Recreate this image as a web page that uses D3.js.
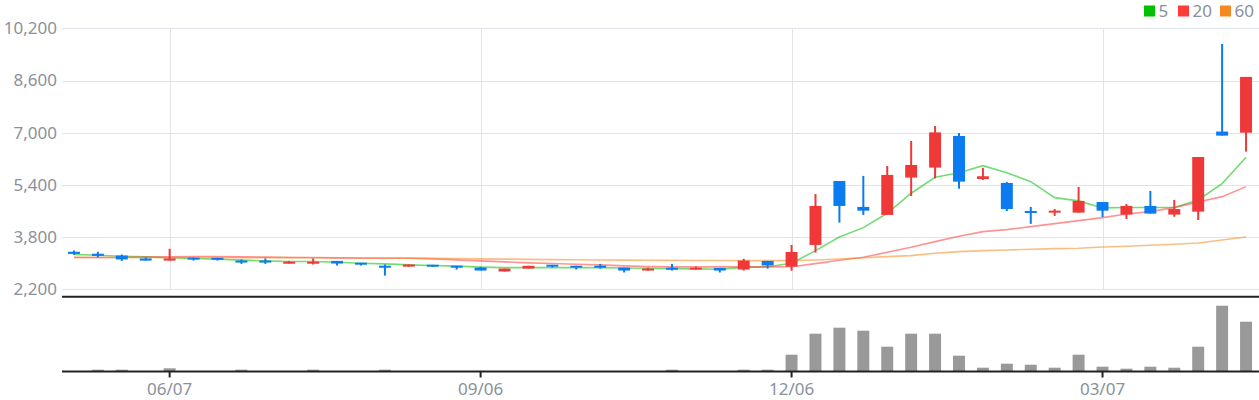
<!DOCTYPE html>
<html>
<head>
<meta charset="utf-8">
<script src="https://cdn.jsdelivr.net/npm/d3@7/dist/d3.min.js"></script>
<style>
  html, body { margin: 0; padding: 0; background: #fff; }
  svg { display: block; font-family: "Noto Sans", "Open Sans", sans-serif; }
</style>
</head>
<body>
<svg id="chart" width="1259" height="400"></svg>
<script>
// ---- data (weekly candles) ----
const dates = [
  "2024-05-10","2024-05-17","2024-05-24","2024-05-31","2024-06-07","2024-06-14","2024-06-21","2024-06-28",
  "2024-07-05","2024-07-12","2024-07-19","2024-07-26","2024-08-02","2024-08-09","2024-08-16","2024-08-23",
  "2024-08-30","2024-09-06","2024-09-13","2024-09-20","2024-09-27","2024-10-04","2024-10-11","2024-10-18",
  "2024-10-25","2024-11-01","2024-11-08","2024-11-15","2024-11-22","2024-11-29","2024-12-06","2024-12-13",
  "2024-12-20","2024-12-27","2025-01-03","2025-01-10","2025-01-17","2025-01-24","2025-01-31","2025-02-07",
  "2025-02-14","2025-02-21","2025-02-28","2025-03-07","2025-03-14","2025-03-21","2025-03-28","2025-04-04",
  "2025-04-11","2025-04-18"
];
const open  = [3350,3290,3235,3145,3080,3165,3165,3080,3080,2990, 2990,3070,3010,2920,2895,2950,2920,2865,2745,2835,
               2950,2920,2920,2865,2775,2855,2805,2855,2805,3070, 2895,3560,5520,4725,4480,5625,5930,6900,5580,5460,
               4590,4550,4550,4875,4490,4755,4490,4580,7035,7000];
const high  = [3390,3350,3265,3175,3440,3165,3165,3115,3145,3070, 3145,3070,3010,2960,2960,2950,2920,2885,2835,2920,
               2950,2920,2980,2865,2865,2980,2895,2855,3135,3070, 3560,5120,5520,5675,5980,6745,7205,6990,5920,5490,
               4725,4660,5335,4875,4815,5215,4940,6255,9720,8710];
const low   = [3255,3175,3070,3080,3080,3080,3080,2980,2980,2990, 2960,2930,2930,2620,2895,2895,2805,2775,2745,2835,
               2865,2805,2835,2715,2775,2775,2805,2715,2775,2835, 2770,3325,4245,4480,4480,5060,5600,5285,5550,4600,
               4205,4450,4550,4415,4355,4520,4425,4325,6910,6420];
const close = [3285,3225,3115,3080,3145,3115,3105,3020,3020,3040, 3040,2990,2960,2865,2960,2895,2865,2775,2835,2920,
               2895,2865,2865,2775,2835,2805,2865,2775,3080,2930, 3345,4755,4755,4610,5705,6010,7010,5500,5665,4660,
               4550,4610,4910,4610,4755,4520,4660,6255,6910,8710];
const volume = [0,13,13,0,27,0,0,13,0,0, 13,0,0,13,0,0,0,0,0,0,
                0,0,0,0,0,13,0,0,13,13, 163,373,433,403,243,373,373,153,33,73,
                63,33,163,43,23,43,33,243,653,493];
const ma5  = [3265,3245,3215,3195,3165,3145,3125,3095,3070,3050, 3050,3030,3000,2980,2950,2930,2910,2880,2865,2865,
              2865,2865,2865,2855,2845,2835,2825,2815,2873,2891, 2997,3385,3805,4090,4530,5145,5635,5775,5990,5775,
              5500,5010,4910,4695,4705,4705,4705,4940,5440,6245];
const ma20 = [3174,3174,3174,3185,3195,3205,3205,3195,3185,3174, 3174,3164,3154,3154,3154,3133,3103,3072,3041,3010,
              2990,2969,2949,2918,2897,2887,2887,2887,2887,2887, 2893,2987,3089,3181,3334,3487,3661,3825,3968,4029,
              4121,4213,4305,4397,4509,4581,4703,4877,5040,5347];
const ma60 = [3178,3177,3176,3175,3174,3174,3173,3172,3171,3170, 3169,3167,3165,3160,3155,3150,3142,3134,3126,3118,
              3110,3105,3100,3095,3090,3086,3083,3081,3079,3078, 3080,3099,3130,3168,3201,3232,3303,3354,3385,3406,
              3426,3446,3457,3498,3518,3549,3579,3620,3712,3804];
const priceTicks = [2200,3800,5400,7000,8600,10200];
const xTickDates = ["2024-06-07","2024-09-06","2024-12-06","2025-03-07"];
const xTickLabels = ["06/07","09/06","12/06","03/07"];
const legendLabels = ["5","20","60"];
const legendColors = ["#00c000","#ff3b3b","#f5881f"];

// ---- layout ----
const svg = d3.select("#chart");
const left = 62, right = 1258;
const priceTop = 28.3, priceBottom = 289.3;
const volTop = 297, volBottom = 371;
const upColor = "#ef3939", downColor = "#0b7cef";
const textColor = "#8a919b", gridColor = "#e0e3e7", axisColor = "#222222";

const x = d3.scaleBand().domain(dates).range([left, right]).paddingInner(0.5).paddingOuter(0.25);
const cx = d => x(d) + x.bandwidth() / 2;
const y = d3.scaleLinear().domain([2200, 10200]).range([priceBottom, priceTop]);
const yv = d3.scaleLinear().domain([0, 740]).range([volBottom, volTop]);

// horizontal grid
svg.append("g").selectAll("line").data(priceTicks).join("line")
  .attr("x1", left).attr("x2", 1259)
  .attr("y1", d => Math.round(y(d)) + 0.5).attr("y2", d => Math.round(y(d)) + 0.5)
  .attr("stroke", gridColor).attr("stroke-width", 1);
// vertical grid
svg.append("g").selectAll("line").data(xTickDates).join("line")
  .attr("x1", d => Math.round(cx(d)) + 0.5).attr("x2", d => Math.round(cx(d)) + 0.5)
  .attr("y1", priceTop).attr("y2", priceBottom)
  .attr("stroke", gridColor).attr("stroke-width", 1);

// y axis labels
const yAxis = d3.axisLeft(y).tickValues(priceTicks).tickSize(0).tickPadding(0)
  .tickFormat(d3.format(","));
const gy = svg.append("g").attr("transform", "translate(57,0)").call(yAxis);
gy.select(".domain").remove();
gy.selectAll("text").attr("fill", textColor).style("font-size", "17px")
  .style("font-family", '"Noto Sans", sans-serif');

// moving averages (under candles)
const idx = d3.range(dates.length);
const maSeries = [ma5, ma20, ma60];
maSeries.forEach((s, k) => {
  const line = d3.line().x(i => cx(dates[i])).y(i => y(s[i]));
  svg.append("path").datum(idx).attr("d", line)
    .attr("fill", "none").attr("stroke", legendColors[k])
    .attr("stroke-opacity", 0.55).attr("stroke-width", 1.6);
});

// candles
const cg = svg.append("g");
idx.forEach(i => {
  const up = close[i] >= open[i];
  const col = up ? upColor : downColor;
  const xc = cx(dates[i]);
  cg.append("rect")
    .attr("x", xc - 1).attr("width", 2)
    .attr("y", y(high[i])).attr("height", Math.max(1, y(low[i]) - y(high[i])))
    .attr("fill", col);
  const top = y(Math.max(open[i], close[i]));
  const bot = y(Math.min(open[i], close[i]));
  const h = Math.max(2, bot - top);
  cg.append("rect")
    .attr("x", xc - x.bandwidth() / 2).attr("width", x.bandwidth())
    .attr("y", (top + bot) / 2 - h / 2).attr("height", h)
    .attr("fill", col);
});

// separator line
svg.append("line").attr("x1", left).attr("x2", 1259)
  .attr("y1", 296.7).attr("y2", 296.7)
  .attr("stroke", axisColor).attr("stroke-width", 2);

// volume bars
svg.append("g").selectAll("rect").data(idx.filter(i => volume[i] > 0)).join("rect")
  .attr("x", i => x(dates[i])).attr("width", x.bandwidth())
  .attr("y", i => yv(volume[i])).attr("height", i => yv(0) - yv(volume[i]))
  .attr("fill", "#999999");

// x axis
const xAxis = d3.axisBottom(x).tickValues(xTickDates).tickSize(6).tickSizeOuter(0).tickPadding(5)
  .tickFormat(d => xTickLabels[xTickDates.indexOf(d)]);
const gx = svg.append("g").attr("transform", "translate(0," + 371.5 + ")").call(xAxis);
gx.select(".domain").attr("d", "M" + left + ",0H1259").attr("stroke", axisColor).attr("stroke-width", 2);
gx.selectAll(".tick line").attr("stroke", axisColor).attr("stroke-width", 2);
gx.selectAll("text").attr("fill", textColor).style("font-size", "17px")
  .style("font-family", '"Noto Sans", sans-serif');

// legend
const legX = [1144, 1178, 1220];
const lg = svg.append("g");
legendLabels.forEach((t, k) => {
  lg.append("rect").attr("x", legX[k]).attr("y", 5.5).attr("width", 11).attr("height", 11)
    .attr("fill", legendColors[k]);
  lg.append("text").attr("x", legX[k] + 14.5).attr("y", 16.8).text(t)
    .attr("fill", textColor).style("font-size", "17px");
});
</script>
</body>
</html>
